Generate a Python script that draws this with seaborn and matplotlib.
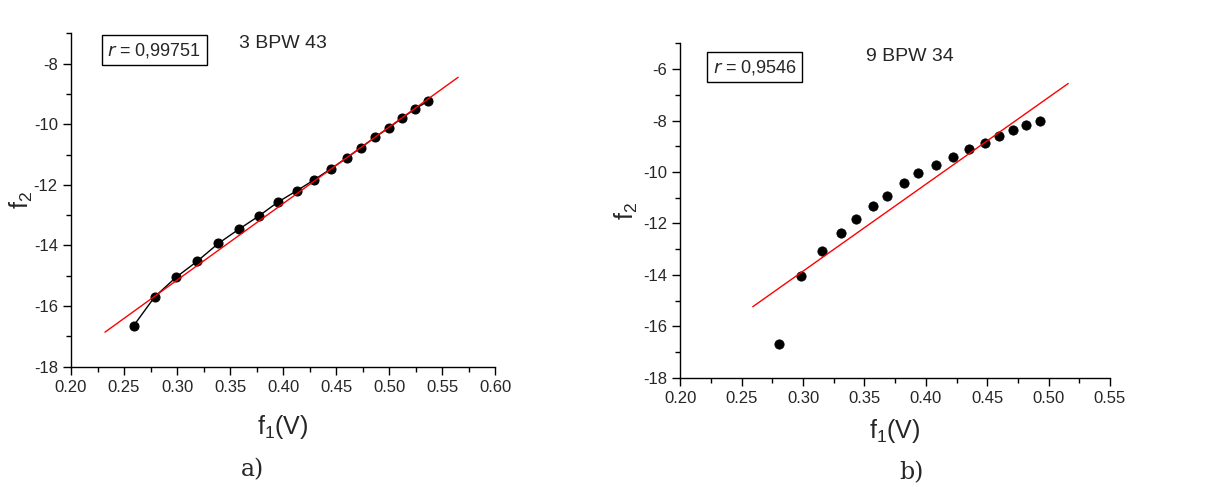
import numpy as np
import pandas as pd
import seaborn as sns
import matplotlib.pyplot as plt

# a) 3 BPW 43
f1_a = [0.259, 0.279, 0.299, 0.319, 0.339, 0.358, 0.377, 0.395, 0.413, 0.429,
        0.445, 0.460, 0.473, 0.487, 0.500, 0.512, 0.524, 0.537]
f2_a = [-16.65, -15.69, -15.05, -14.52, -13.93, -13.47, -13.03, -12.57, -12.19, -11.84,
        -11.47, -11.11, -10.78, -10.42, -10.11, -9.80, -9.50, -9.23]
fit_f1_a = [0.232, 0.565]
fit_f2_a = [-16.86, -8.45]

# b) 9 BPW 34
f1_b = [0.280, 0.298, 0.315, 0.331, 0.343, 0.357, 0.368, 0.382, 0.394, 0.408,
        0.422, 0.435, 0.448, 0.460, 0.471, 0.482, 0.493]
f2_b = [-16.68, -14.05, -13.08, -12.39, -11.83, -11.32, -10.94, -10.44, -10.05, -9.74,
        -9.40, -9.11, -8.86, -8.60, -8.38, -8.19, -8.02]
fit_f1_b = [0.259, 0.516]
fit_f2_b = [-15.24, -6.56]

sns.set_style("ticks")
plt.rcParams['font.family'] = ['Liberation Sans', 'DejaVu Sans']
plt.rcParams['mathtext.default'] = 'regular'
plt.rcParams['axes.unicode_minus'] = False

fig = plt.figure(figsize=(12.16, 4.87), dpi=100)
ax1 = fig.add_axes([0.0584, 0.247, 0.3489, 0.6846])
ax2 = fig.add_axes([0.5595, 0.2244, 0.3533, 0.6866])


def style_axis(ax, xlim, ylim, xlab_y, ylab_x):
    sns.despine(ax=ax)
    ax.set_xlim(*xlim)
    ax.set_ylim(*ylim)
    ax.xaxis.set_major_locator(plt.MultipleLocator(0.05))
    ax.xaxis.set_minor_locator(plt.MultipleLocator(0.025))
    ax.yaxis.set_major_locator(plt.MultipleLocator(2))
    ax.yaxis.set_minor_locator(plt.MultipleLocator(1))
    ax.xaxis.set_major_formatter(plt.FormatStrFormatter('%.2f'))
    ax.tick_params(which='major', length=6, width=1, color='black', labelsize=12)
    ax.tick_params(which='minor', length=3.5, width=1, color='black')
    for s in ax.spines.values():
        s.set_color('black')
        s.set_linewidth(1)
    ax.set_xlabel('f$_1$(V)', fontsize=18)
    ax.set_ylabel('f$_2$', fontsize=18)
    ax.xaxis.set_label_coords(0.5, xlab_y)
    ax.yaxis.set_label_coords(ylab_x, 0.5)


# plot a
df_a = pd.DataFrame({'f1': f1_a, 'f2': f2_a})
sns.lineplot(data=df_a, x='f1', y='f2', ax=ax1, color='black', lw=1,
             marker='o', markersize=6.5, markeredgecolor='black', sort=False)
sns.lineplot(x=fit_f1_a, y=fit_f2_a, ax=ax1, color='red', lw=1)
style_axis(ax1, (0.2, 0.6), (-18, -7), -0.14, -0.086)
ax1.text(0.085, 0.949, '$\\it{r}$ = 0,99751', transform=ax1.transAxes, fontsize=13,
         ha='left', va='center', bbox=dict(boxstyle='square,pad=0.3', fc='white', ec='black', lw=1))
ax1.text(0.5, 0.968, '3 BPW 43', transform=ax1.transAxes, fontsize=14, ha='center', va='center')

# plot b
df_b = pd.DataFrame({'f1': f1_b, 'f2': f2_b})
sns.scatterplot(data=df_b, x='f1', y='f2', ax=ax2, color='black', s=45, edgecolor='black')
sns.lineplot(x=fit_f1_b, y=fit_f2_b, ax=ax2, color='red', lw=1)
style_axis(ax2, (0.2, 0.55), (-18, -5), -0.116, -0.095)
ax2.text(0.075, 0.929, '$\\it{r}$ = 0,9546', transform=ax2.transAxes, fontsize=13,
         ha='left', va='center', bbox=dict(boxstyle='square,pad=0.3', fc='white', ec='black', lw=1))
ax2.text(0.535, 0.962, '9 BPW 34', transform=ax2.transAxes, fontsize=14, ha='center', va='center')

fig.text(253 / 1216, 1 - 470 / 487, 'a)', family='DejaVu Serif', fontsize=17, ha='center', va='center')
fig.text(912 / 1216, 1 - 473 / 487, 'b)', family='DejaVu Serif', fontsize=17, ha='center', va='center')

fig.savefig('out.png', dpi=100)
